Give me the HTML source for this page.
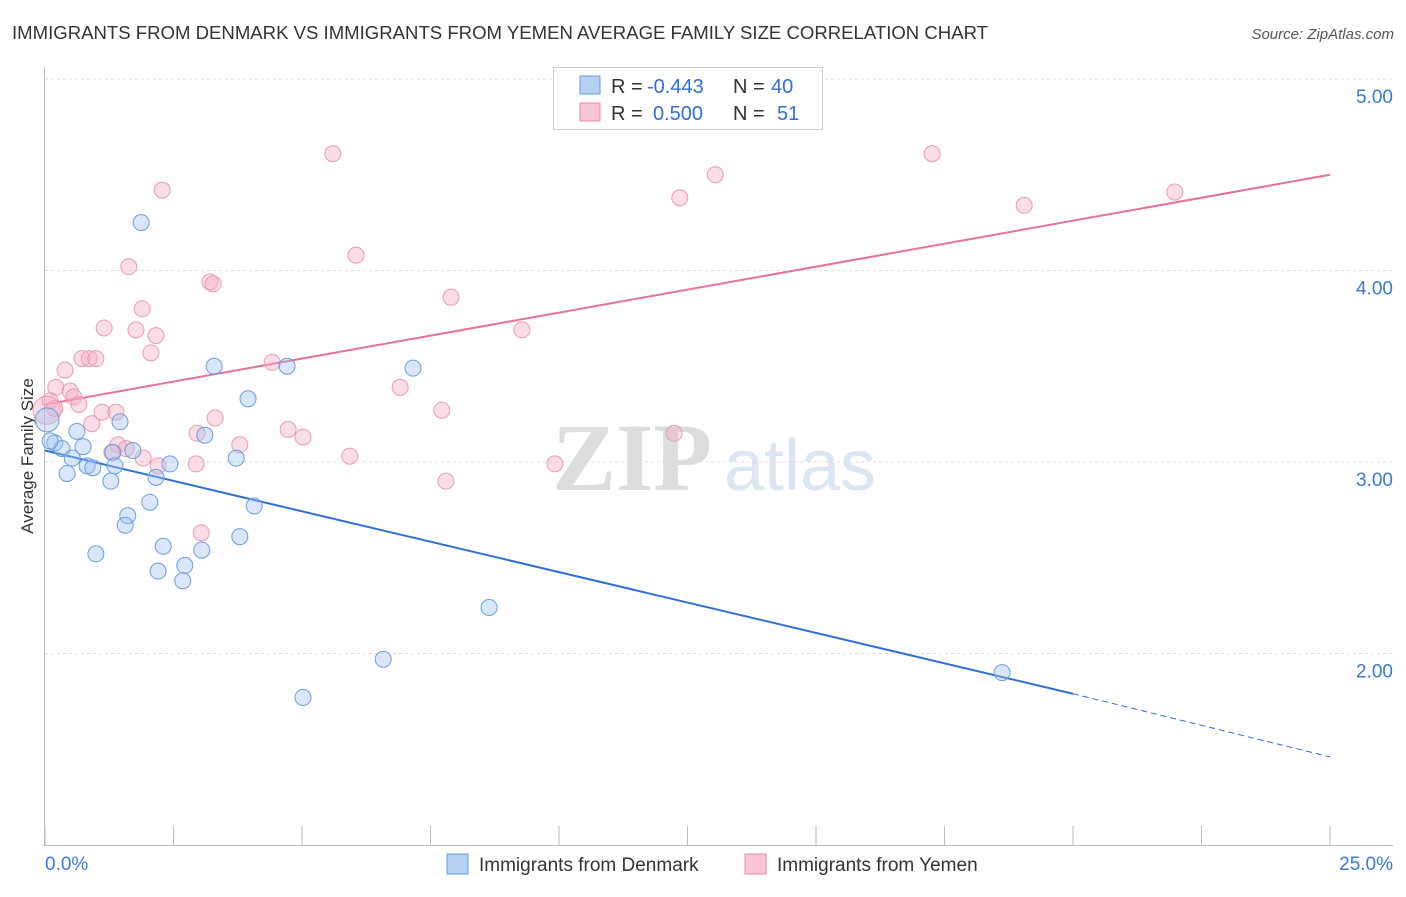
<!DOCTYPE html>
<html><head><meta charset="utf-8"><style>
body{margin:0;background:#fff;font-family:"Liberation Sans",sans-serif}
#c{position:relative;width:1406px;height:892px}
</style></head><body>
<div id="c">
<svg id="s" width="1406" height="892" xmlns="http://www.w3.org/2000/svg">
<text x="12" y="39" font-size="18" fill="#333" textLength="976" lengthAdjust="spacingAndGlyphs">IMMIGRANTS FROM DENMARK VS IMMIGRANTS FROM YEMEN AVERAGE FAMILY SIZE CORRELATION CHART</text>
<text x="1394" y="39" font-size="15" fill="#555" text-anchor="end" font-style="italic">Source: ZipAtlas.com</text>
<text x="33" y="456" font-size="17" fill="#333" text-anchor="middle" transform="rotate(-90 33 456)">Average Family Size</text>
<g><text x="632" y="490" font-size="96" fill="#ddd" font-family="Liberation Serif" text-anchor="middle" font-weight="bold">ZIP</text><text x="800" y="490" font-size="72" fill="#dbe6f5" text-anchor="middle">atlas</text></g>
<g id="grid"></g><g id="axes"></g><g id="lines"></g><g id="pts"></g>
<g>
<rect x="553.5" y="67.5" width="269" height="62" fill="#fff" stroke="#ccc"/>
<rect x="580" y="76" width="20" height="18" fill="#b4d0f2" stroke="#6a9de0"/>
<rect x="580" y="103" width="20" height="18" fill="#f8c5d4" stroke="#e88aa8"/>
<g font-size="20" fill="#333">
<text x="611" y="93">R =</text><text x="647" y="93" fill="#2f6fd6">-0.443</text><text x="733" y="93">N =</text><text x="771" y="93" fill="#2f6fd6">40</text>
<text x="611" y="120">R =</text><text x="653" y="120" fill="#2f6fd6">0.500</text><text x="733" y="120">N =</text><text x="777" y="120" fill="#2f6fd6">51</text>
</g>
</g>
<g>
<rect x="447" y="854" width="21" height="20" fill="#b4d0f2" stroke="#6a9de0"/>
<text x="479" y="871" font-size="19" fill="#333">Immigrants from Denmark</text>
<rect x="745" y="854" width="21" height="20" fill="#f8c5d4" stroke="#e88aa8"/>
<text x="777" y="871" font-size="19" fill="#333">Immigrants from Yemen</text>
</g>
</svg></div>
<script>
const yTicks=[2,3,4,5];
const yTickLabels=["2.00","3.00","4.00","5.00"];
const xTickLabels=["0.0%","25.0%"];
const denX=[1.87,3.29,4.71,7.16,3.95,1.46,3.11,3.72,2.43,1.71,1.32,0.19,0.33,0.62,0.74,0.53,0.82,0.93,1.36,0.43,1.28,2.16,2.04,4.07,1.61,1.56,3.79,2.30,3.05,0.99,2.72,2.20,2.68,8.64,6.58,5.02,18.62,0.10,0.04];
const denY=[4.25,3.50,3.50,3.49,3.33,3.21,3.14,3.02,2.99,3.06,3.05,3.10,3.07,3.16,3.08,3.02,2.98,2.97,2.98,2.94,2.90,2.92,2.79,2.77,2.72,2.67,2.61,2.56,2.54,2.52,2.46,2.43,2.38,2.24,1.97,1.77,1.90,3.11,3.22];
const yemX=[5.60,17.26,13.04,12.35,21.98,19.05,2.28,6.05,1.63,3.21,3.27,7.90,1.89,1.15,1.77,2.16,9.28,2.06,0.72,0.86,0.99,4.42,0.39,6.91,0.21,0.49,0.56,0.66,0.10,0.19,1.11,1.38,7.72,3.31,0.91,4.73,2.96,5.02,12.24,3.79,1.42,1.58,1.30,1.91,5.93,2.20,2.94,9.92,7.80,3.04,0.04];
const yemY=[4.61,4.61,4.50,4.38,4.41,4.34,4.42,4.08,4.02,3.94,3.93,3.86,3.80,3.70,3.69,3.66,3.69,3.57,3.54,3.54,3.54,3.52,3.48,3.39,3.39,3.37,3.34,3.30,3.32,3.28,3.26,3.26,3.27,3.23,3.20,3.17,3.15,3.13,3.15,3.09,3.09,3.07,3.05,3.02,3.03,2.98,2.99,2.99,2.90,2.63,3.27];
const denTrend=[3.06,1.79,1.46];
const yemTrend=[3.30,4.50];
const X=v=>45+v*51.4, Y=v=>462-(v-3)*191.5;
const NS="http://www.w3.org/2000/svg";
function mk(p,t,a){const e=document.createElementNS(NS,t);for(const k in a)e.setAttribute(k,a[k]);document.getElementById(p).appendChild(e);return e;}
yTicks.forEach((t,i)=>{
 const g=mk('grid','line',{x1:45,x2:1393,y1:Y(t),y2:Y(t),stroke:'#ddd','stroke-dasharray':'3,3'});
 
 
 const l=mk('axes','text',{x:1393,y:Y(t)+24,'font-size':19,fill:'#3a78d8','text-anchor':'end'});
 l.textContent=yTickLabels[i];
 
 
});
const ax=mk('axes','line',{x1:44.5,x2:44.5,y1:67,y2:845,stroke:'#bbb'});


const bx=mk('axes','line',{x1:44,x2:1393,y1:845.5,y2:845.5,stroke:'#bbb'});


for(let i=0;i<=10;i++){const t=mk('axes','line',{x1:X(i*2.5),x2:X(i*2.5),y1:826,y2:845,stroke:'#bbb'});
 
 }
[[0,'start',45],[25,'end',1393]].forEach((d,i)=>{const t=mk('axes','text',{x:d[2],y:870,'font-size':19,fill:'#3a78d8','text-anchor':d[1]});t.textContent=xTickLabels[i];
 
 });
let l1=mk('lines','line',{x1:X(0),y1:Y(denTrend[0]),x2:X(20),y2:Y(denTrend[1]),stroke:'#2f6fd6','stroke-width':2});


let l2=mk('lines','line',{x1:X(20),y1:Y(denTrend[1]),x2:X(25),y2:Y(denTrend[2]),stroke:'#2f6fd6','stroke-width':1,'stroke-dasharray':'6,4'});


let l3=mk('lines','line',{x1:X(0),y1:Y(yemTrend[0]),x2:X(25),y2:Y(yemTrend[1]),stroke:'#e8709a','stroke-width':2});


yemX.forEach((x,i)=>{const c=mk('pts','circle',{cx:X(x),cy:Y(yemY[i]),r:i==yemX.length-1?14:8,fill:'rgba(245,170,195,0.4)',stroke:'#ea9ab4','stroke-width':1});
 
 });
denX.forEach((x,i)=>{const c=mk('pts','circle',{cx:X(x),cy:Y(denY[i]),r:i==denX.length-1?12:8,fill:'rgba(160,195,240,0.4)',stroke:'#6a9de0','stroke-width':1});
 
 });
</script>
</body></html>
